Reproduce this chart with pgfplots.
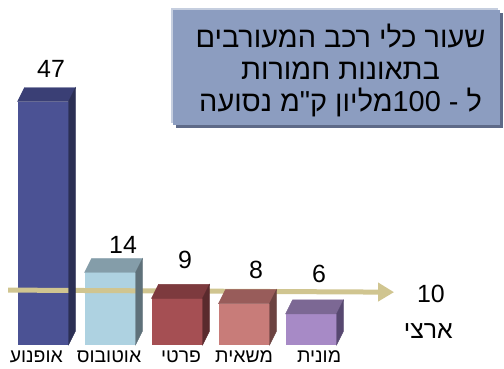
\documentclass[border=0pt]{standalone}
\usepackage{fontspec}
\setmainfont{Liberation Sans}
\newfontfamily\heb[Script=Hebrew]{Liberation Sans}
\TeXXeTstate=1
\usepackage{pgfplots}
\pgfplotsset{compat=1.18}
\usetikzlibrary{arrows.meta}

\definecolor{f1}{HTML}{4B5294}\definecolor{t1}{HTML}{3A3F75}\definecolor{s1}{HTML}{2B2F54}
\definecolor{f2}{HTML}{AED2E1}\definecolor{t2}{HTML}{849DA9}\definecolor{s2}{HTML}{5F717A}
\definecolor{f3}{HTML}{A54F53}\definecolor{t3}{HTML}{7D3A3E}\definecolor{s3}{HTML}{5A2A2D}
\definecolor{f4}{HTML}{C87C79}\definecolor{t4}{HTML}{985C5A}\definecolor{s4}{HTML}{6C4341}
\definecolor{f5}{HTML}{A78AC6}\definecolor{t5}{HTML}{7C6894}\definecolor{s5}{HTML}{574870}
\definecolor{arrowc}{HTML}{D0C590}
\definecolor{boxc}{HTML}{8C9DC0}
\definecolor{boxshadow}{HTML}{5E6A88}
\definecolor{boxlight}{HTML}{C5CEDF}

\pgfdeclareplotmark{void}{}

\pgfplotsset{
  front/.style n args={3}{% fill, label xshift, label yshift
    ybar, bar width=51bp, bar shift=0pt, fill=#1, draw=none,
    nodes near coords,
    every node near coord/.append style={anchor=center, xshift=#2, yshift=#3,
      font=\fontsize{25}{25}\selectfont, text=black},
  },
  cap/.style 2 args={% top colour, side colour
    only marks, scatter, mark=void,
    visualization depends on=rawy \as \rawy,
    scatter/@pre marker code/.code={%
      \fill[#1] (-25.5bp,0pt) -- (25.5bp,0pt) -- (32.5bp,14bp) -- (-18.5bp,14bp) -- cycle;
      \fill[#2] (25.5bp,0pt) -- (32.5bp,14bp) -- ++(axis direction cs:0,-\rawy) -- ++(-7bp,-14bp) -- cycle;
    },
    scatter/@post marker code/.code={},
  },
}

\pgfplotstableread{
x y label
-0.10 -2.3 אופנוע
0.985 -2.3 אוטובוס
2.06 -2.3 פרטי
3.0 -2.3 משאית
4.12 -2.3 מונית
}\catlabels

\begin{document}
\begin{tikzpicture}
\begin{axis}[
  x=67bp, y=5.18bp,
  xmin=-0.642, xmax=6.88, ymin=-4.44, ymax=66.6,
  hide axis, clip=false,
  /pgf/number format/assume math mode=true,
]
% bars: front faces and 3D caps
\addplot[front={f1}{8bp}{33bp}] coordinates {(0,47)};
\addplot[cap={t1}{s1}] coordinates {(0,47)};
\addplot[front={f2}{13bp}{28bp}] coordinates {(1,14)};
\addplot[cap={t2}{s2}] coordinates {(1,14)};
\addplot[front={f3}{8bp}{38bp}] coordinates {(2,9)};
\addplot[cap={t3}{s3}] coordinates {(2,9)};
\addplot[front={f4}{12bp}{34bp}] coordinates {(3,8)};
\addplot[cap={t4}{s4}] coordinates {(3,8)};
\addplot[front={f5}{8bp}{40bp}] coordinates {(4,6)};
\addplot[cap={t5}{s5}] coordinates {(4,6)};

% national average arrow (10)
\addplot[arrowc, line width=5bp, -{Triangle[length=16bp,width=18bp]}]
  coordinates {(-0.522,10.6) (5.239,10.2)};

% category labels
\addplot[only marks, mark=void, point meta=explicit symbolic,
  nodes near coords={\beginR\pgfplotspointmeta\endR},
  every node near coord/.append style={anchor=center, text=black,
    font={\heb\fontsize{19.5}{19.5}\selectfont}}]
  table[meta=label] {\catlabels};

\node[font=\fontsize{25}{25}\selectfont] at (axis cs:5.79,9.85) {10};
\node[font={\heb\fontsize{25}{25}\selectfont}] at (axis cs:5.75,2.6) {\beginR ארצי\endR};

% title box
\node[fill=boxlight, minimum width=327bp, minimum height=115bp, inner sep=0pt, xshift=-2bp, yshift=2bp] at (axis cs:4.38,53.6) {};
\node[fill=boxshadow, minimum width=327bp, minimum height=115bp, inner sep=0pt, xshift=3bp, yshift=-3bp] at (axis cs:4.38,53.6) {};
\node[fill=boxc, minimum width=327bp, minimum height=115bp, inner sep=0pt] at (axis cs:4.38,53.6) {};
\node[align=center, font={\heb\fontsize{29}{32}\selectfont}, xshift=4bp, yshift=-3bp] at (axis cs:4.38,53.6)
  {\beginR שעור כלי רכב המעורבים\endR\\
   \beginR בתאונות חמורות\endR\\
   \beginR ל - \beginL100\endL מליון ק"מ נסועה\endR};
\end{axis}
\path (current axis.south west) (current axis.north east);
\end{tikzpicture}
\end{document}
